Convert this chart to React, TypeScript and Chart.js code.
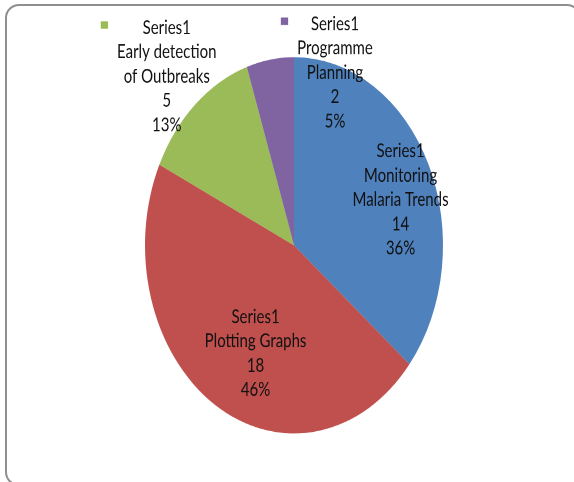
import React, { useEffect, useRef } from "react";
import { Chart, registerables } from "chart.js";

Chart.register(...registerables);

// ---- data ----
const seriesName = "Series1";
const categories = [
  "Monitoring Malaria Trends",
  "Plotting Graphs",
  "Early detection of Outbreaks",
  "Programme Planning",
];
const categoryLines = [
  ["Monitoring", "Malaria Trends"],
  ["Plotting Graphs"],
  ["Early detection", "of Outbreaks"],
  ["Programme", "Planning"],
];
const values = [14, 18, 5, 2];
const sliceColors = ["#4F81BD", "#C0504D", "#9BBB59", "#8064A2"];
const showKey = [false, false, true, true];

// ---- layout / style ----
const W = 574;
const H_OUT = 482;
const STRETCH = 1.2626; // reference image is stretched vertically
const H = Math.round(H_OUT / STRETCH);
const FONT_SIZE = 15;
const FONT_FAMILY = "Lato";
const CAP = FONT_SIZE * 0.72;
const LINE_H = 19.25;
const TEXT_COLOR = "#111111";
const KEY_W = 7.3;
const KEY_H = 6;
const KEY_GAP = 9;
// label block centres relative to pie centre, in radius units
const labelOffsets = [
  [0.715, -0.246],
  [-0.258, 0.571],
  [-0.854, -0.901],
  [0.275, -0.921],
];

const labelPlugin = {
  id: "sliceLabels",
  afterDatasetsDraw(chart: any) {
    const ctx = chart.ctx;
    const meta = chart.getDatasetMeta(0);
    const total = values.reduce((a, b) => a + b, 0);
    ctx.save();
    ctx.font = `${FONT_SIZE}px ${FONT_FAMILY}, "Liberation Sans", sans-serif`;
    ctx.textAlign = "center";
    ctx.textBaseline = "alphabetic";
    meta.data.forEach((arc: any, i: number) => {
      const { x, y, outerRadius } = arc.getProps(["x", "y", "outerRadius"], true);
      const lines = [
        seriesName,
        ...categoryLines[i],
        String(values[i]),
        Math.round((values[i] / total) * 100) + "%",
      ];
      const cx = x + labelOffsets[i][0] * outerRadius;
      const cy = y + labelOffsets[i][1] * outerRadius;
      const top = cy - ((lines.length - 1) / 2) * LINE_H;
      ctx.fillStyle = TEXT_COLOR;
      lines.forEach((t, k) => ctx.fillText(t, cx, top + k * LINE_H + CAP / 2));
      if (showKey[i]) {
        const maxW = Math.max(...lines.map((t) => ctx.measureText(t).width));
        const kx = cx - maxW / 2 - KEY_GAP - KEY_W;
        const ky = top - 1.75 - KEY_H / 2;
        ctx.fillStyle = sliceColors[i];
        ctx.fillRect(kx, ky, KEY_W, KEY_H);
      }
    });
    ctx.restore();
  },
};

export default function App() {
  const ref = useRef<HTMLCanvasElement | null>(null);

  useEffect(() => {
    if (!ref.current) return;
    const chart = new Chart(ref.current, {
      type: "pie",
      data: {
        labels: categories,
        datasets: [
          {
            label: seriesName,
            data: values,
            backgroundColor: sliceColors,
            borderWidth: 0,
          },
        ],
      },
      options: {
        responsive: false,
        animation: false,
        devicePixelRatio: 2,
        layout: { padding: { left: 145, right: 131, top: 45.3, bottom: H - 194.3 - 149 } },
        plugins: {
          legend: { display: false },
          tooltip: { enabled: false },
          title: { display: false },
        },
      },
      plugins: [labelPlugin],
    });
    return () => chart.destroy();
  }, []);

  return (
    <div
      style={{
        position: "fixed",
        left: 0,
        top: 0,
        width: W,
        height: H_OUT,
        overflow: "hidden",
        background: "#ffffff",
      }}
    >
      <div
        style={{
          position: "absolute",
          left: 0,
          top: 0,
          width: W,
          height: H,
          transform: `scale(1, ${STRETCH})`,
          transformOrigin: "0 0",
        }}
      >
        <canvas ref={ref} width={W} height={H} style={{ width: W, height: H, display: "block" }} />
      </div>
      <div
        style={{
          position: "absolute",
          left: 5,
          top: 4,
          width: 576,
          height: 482,
          boxSizing: "border-box",
          border: "2px solid #8f8f8f",
          borderRadius: 14,
          pointerEvents: "none",
        }}
      />
    </div>
  );
}
